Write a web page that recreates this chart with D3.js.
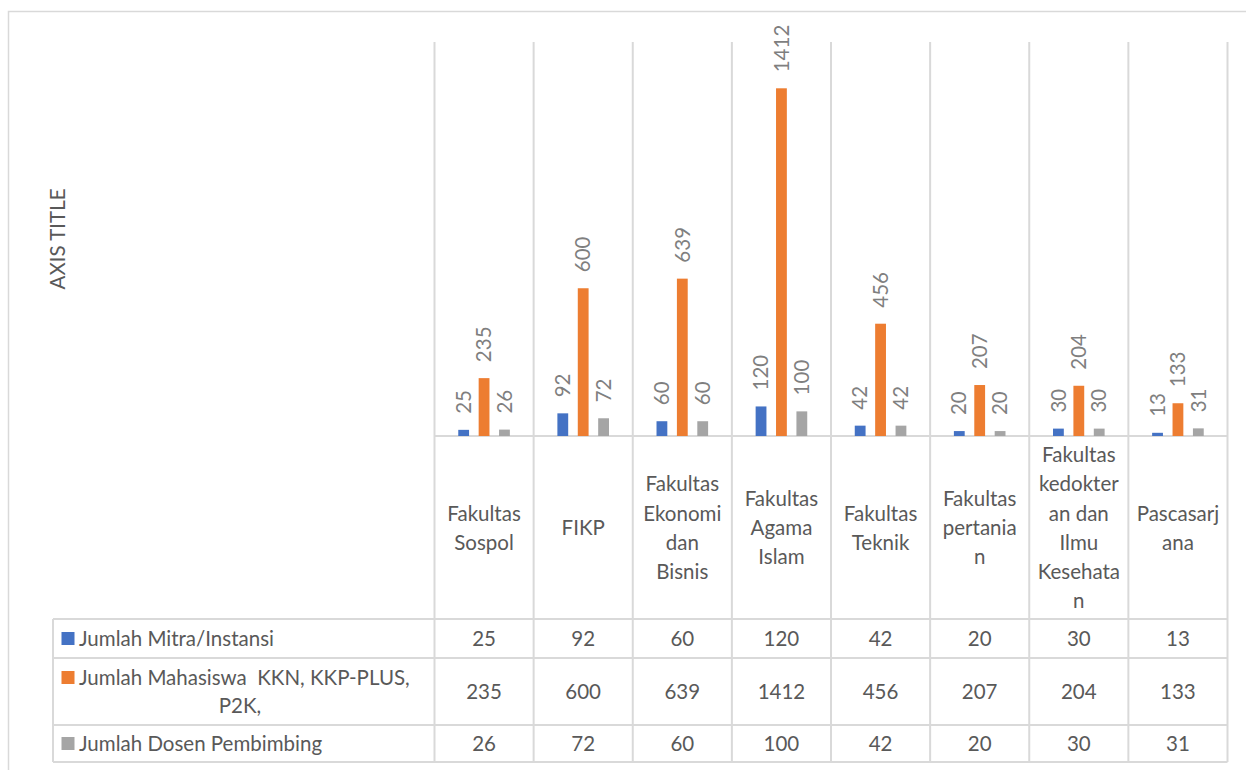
<!DOCTYPE html>
<html>
<head>
<meta charset="utf-8">
<script src="https://cdn.jsdelivr.net/npm/d3@7"></script>
<style>
  body { margin: 0; background: #fff; }
  text { font-family: Lato, "Open Sans", sans-serif; }
</style>
</head>
<body>
<div id="VisContainer"></div>
<script>
// data
var categories = ["Fakultas Sospol", "FIKP", "Fakultas Ekonomi dan Bisnis", "Fakultas Agama Islam",
                  "Fakultas Teknik", "Fakultas pertanian", "Fakultas kedokteran dan Ilmu Kesehatan", "Pascasarjana"];
// wrapped the way the reference shows them
var categoryLines = [
  ["Fakultas", "Sospol"],
  ["FIKP"],
  ["Fakultas", "Ekonomi", "dan", "Bisnis"],
  ["Fakultas", "Agama", "Islam"],
  ["Fakultas", "Teknik"],
  ["Fakultas", "pertania", "n"],
  ["Fakultas", "kedokter", "an dan", "Ilmu", "Kesehata", "n"],
  ["Pascasarj", "ana"]
];
var seriesNames = ["Jumlah Mitra/Instansi", "Jumlah Mahasiswa  KKN, KKP-PLUS, P2K,", "Jumlah Dosen Pembimbing"];
var seriesLegendLines = [["Jumlah Mitra/Instansi"], ["Jumlah Mahasiswa\u00a0\u00a0KKN, KKP-PLUS,", "P2K,"], ["Jumlah Dosen Pembimbing"]];
var mitra     = [25, 92, 60, 120, 42, 20, 30, 13];
var mahasiswa = [235, 600, 639, 1412, 456, 207, 204, 133];
var dosen     = [26, 72, 60, 100, 42, 20, 30, 31];
var seriesValues = [mitra, mahasiswa, dosen];
var colors = ["#4472C4", "#ED7D31", "#A5A5A5"];
var yMax = 1600;

var W = 1246, H = 770;
var plotLeft = 434.5, plotRight = 1227.5, plotTop = 42, plotBottom = 436;
var tableTop = 619, rowBottoms = [658, 725, 762], tableLeft = 53;
var gridColor = "#D9D9D9", textColor = "#595959";
var fs = "20.5px";

var svg = d3.select("#VisContainer").append("svg")
  .attr("width", W).attr("height", H);

// chart border
svg.append("rect")
  .attr("x", 8.5).attr("y", 11.5)
  .attr("width", W).attr("height", H)
  .attr("fill", "none").attr("stroke", gridColor).attr("stroke-width", 1.5);

var x0 = d3.scaleBand().domain(d3.range(categories.length))
  .range([plotLeft, plotRight]).paddingInner(0).paddingOuter(0);
var x1 = d3.scaleBand().domain(d3.range(seriesValues.length))
  .range([x0.bandwidth() / 2 - 25.8, x0.bandwidth() / 2 + 25.8]).paddingInner(0.47).paddingOuter(0);
var y = d3.scaleLinear().domain([0, yMax]).range([plotBottom, plotTop]);

// vertical grid lines (category boundaries run down through the table)
var bounds = d3.range(categories.length + 1).map(function(i){
  return i < categories.length ? x0(i) : x0(categories.length - 1) + x0.bandwidth();
});
svg.selectAll("line.vgrid").data(bounds).enter().append("line")
  .attr("class", "vgrid")
  .attr("x1", function(d){return d;}).attr("x2", function(d){return d;})
  .attr("y1", plotTop).attr("y2", rowBottoms[2])
  .attr("stroke", gridColor).attr("stroke-width", 2);

// baseline
svg.append("line")
  .attr("x1", plotLeft).attr("x2", plotRight)
  .attr("y1", plotBottom).attr("y2", plotBottom)
  .attr("stroke", gridColor).attr("stroke-width", 2);

// table lines
[tableTop].concat(rowBottoms).forEach(function(yy){
  svg.append("line")
    .attr("x1", tableLeft).attr("x2", plotRight)
    .attr("y1", yy).attr("y2", yy)
    .attr("stroke", gridColor).attr("stroke-width", 2);
});
svg.append("line")
  .attr("x1", tableLeft).attr("x2", tableLeft)
  .attr("y1", tableTop).attr("y2", rowBottoms[2])
  .attr("stroke", gridColor).attr("stroke-width", 2);

// bars
var groups = svg.selectAll("g.cat").data(categories).enter().append("g")
  .attr("class", "cat")
  .attr("transform", function(d, i){ return "translate(" + x0(i) + ",0)"; });

groups.each(function(c, ci){
  var g = d3.select(this);
  seriesValues.forEach(function(vals, si){
    var v = vals[ci];
    g.append("rect")
      .attr("x", x1(si)).attr("width", x1.bandwidth())
      .attr("y", y(v)).attr("height", plotBottom - y(v))
      .attr("fill", colors[si]);
    var cx = x1(si) + x1.bandwidth() / 2, ty = y(v) - 16;
    g.append("text")
      .attr("transform", "translate(" + cx + "," + ty + ") rotate(-90)")
      .attr("dy", "0.35em")
      .attr("fill", "#7F7F7F")
      .style("font-size", fs)
      .text(v);
  });

  // category label
  var lines = categoryLines[ci];
  var lh = 29.3, mid = 528;
  var startY = mid - (lines.length - 1) * lh / 2;
  var t = g.append("text")
    .attr("text-anchor", "middle")
    .attr("fill", textColor)
    .style("font-size", fs);
  lines.forEach(function(l, li){
    t.append("tspan").attr("x", x0.bandwidth() / 2)
      .attr("y", startY + li * lh).attr("dy", "0.35em").text(l);
  });

  // table values
  seriesValues.forEach(function(vals, si){
    var top = si === 0 ? tableTop : rowBottoms[si - 1];
    g.append("text")
      .attr("x", x0.bandwidth() / 2)
      .attr("y", (top + rowBottoms[si]) / 2)
      .attr("dy", "0.35em")
      .attr("text-anchor", "middle")
      .attr("fill", textColor)
      .style("font-size", fs)
      .text(vals[ci]);
  });
});

// legend cells in the table
seriesLegendLines.forEach(function(lines, si){
  var top = si === 0 ? tableTop : rowBottoms[si - 1];
  var rowMid = (top + rowBottoms[si]) / 2;
  if (lines.length === 1) {
    svg.append("rect").attr("x", 61.5).attr("y", rowMid - 6.5)
      .attr("width", 13).attr("height", 13).attr("fill", colors[si]);
    svg.append("text").attr("x", 79).attr("y", rowMid).attr("dy", "0.35em")
      .attr("fill", textColor).style("font-size", fs).text(lines[0]);
  } else {
    var lh = 28, y0 = rowMid - lh / 2;
    svg.append("rect").attr("x", 61.5).attr("y", y0 - 6.5)
      .attr("width", 13).attr("height", 13).attr("fill", colors[si]);
    svg.append("text").attr("x", 79).attr("y", y0).attr("dy", "0.35em")
      .attr("fill", textColor).style("font-size", fs).text(lines[0]);
    svg.append("text").attr("x", 240).attr("y", y0 + lh).attr("dy", "0.35em")
      .attr("text-anchor", "middle")
      .attr("fill", textColor).style("font-size", fs).text(lines[1]);
  }
});

// axis title
svg.append("text")
  .attr("transform", "translate(58,239) rotate(-90)")
  .attr("text-anchor", "middle").attr("dy", "0.35em")
  .attr("fill", textColor)
  .style("font-size", fs)
  .text("AXIS TITLE");
</script>
</body>
</html>
